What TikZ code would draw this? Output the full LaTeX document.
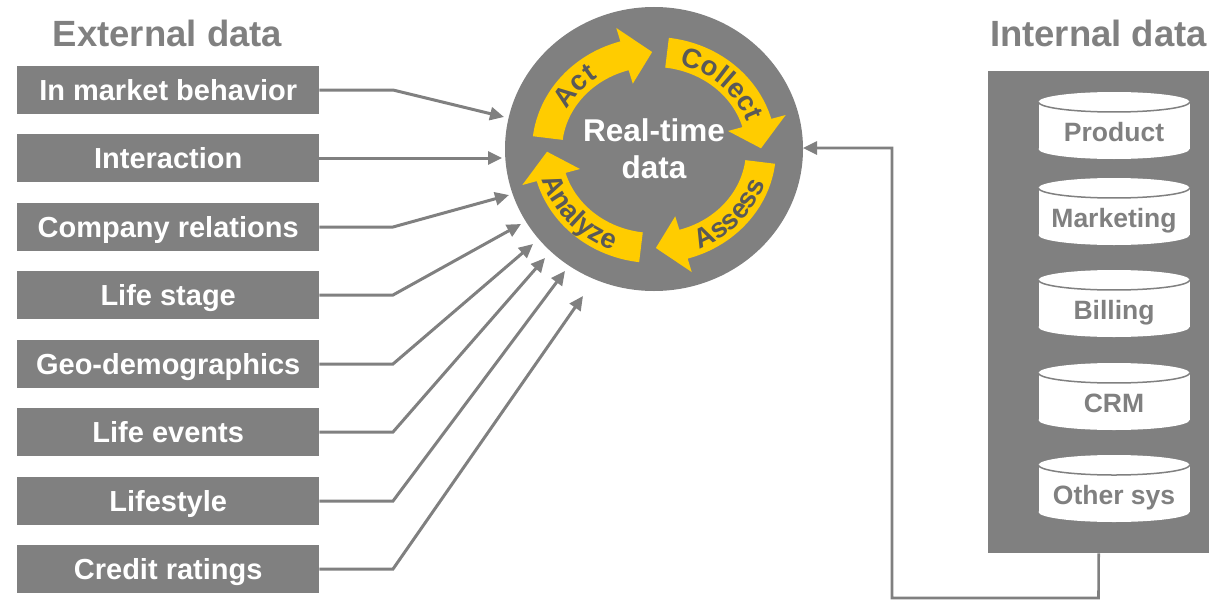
\documentclass[tikz,border=0pt]{standalone}
\usepackage{fontspec}
\setmainfont{Liberation Sans}
\usetikzlibrary{arrows.meta,shapes.geometric,decorations.text}

\definecolor{slate}{HTML}{808080}
\definecolor{gold}{HTML}{FFCC00}
\definecolor{ink}{HTML}{595959}

\tikzset{
  srcbox/.style={fill=slate, text=white, font=\fontsize{29}{34}\selectfont\bfseries,
    minimum width=302pt, minimum height=48pt, inner sep=0pt, anchor=west,
    text height=20.8pt, text depth=0pt},
  feed/.style={draw=slate, line width=3pt, -{Triangle[length=14pt,width=13pt]}},
  title/.style={text=slate, font=\fontsize{36.5}{40}\selectfont\bfseries},
  dbtext/.style={text=slate, font=\fontsize{26.5}{30}\selectfont\bfseries,
    text height=19pt, text depth=0pt, inner sep=0pt},
}

\newcommand\ringfont{\fontsize{27.5}{27.5}\selectfont\bfseries\color{ink}}

% curved arrow of the cycle: #1 = tail angle (visual, counter-clockwise)
\newcommand\ringarrow[1]{%
  \pgfmathsetmacro\ab{#1-67}\pgfmathsetmacro\at{#1-82}%
  \fill[gold] plot[domain=#1:\ab, samples=50] ({654+122*cos(\x)},{150-113*sin(\x)})
    -- ({654+137*cos(\ab)},{150-127*sin(\ab)})
    -- ({654+107*cos(\at)},{150-98*sin(\at)})
    -- ({654+77*cos(\ab)},{150-69*sin(\ab)})
    -- plot[domain=\ab:#1, samples=50] ({654+92*cos(\x)},{150-83*sin(\x)}) -- cycle;
}

% word set along the ring: #1 from, #2 to, #3 radial offset, #4 word
\newcommand\ringword[4]{%
  \path[decorate, decoration={text along path, text align=center, text={|\ringfont|#4}}]
    plot[domain=#1:#2, samples=80] ({654+(107+#3)*cos(\x)},{150-(98+#3)*sin(\x)});
}

% database drum: #1 top y, #2 label, #3 name
\newcommand\dbdrum[3]{%
  \fill[white] (1114,#1+10) ellipse[x radius=75.5, y radius=10];
  \fill[white] (1038.5,#1+10) rectangle (1189.5,#1+57);
  \fill[white] (1114,#1+57) ellipse[x radius=75.5, y radius=10];
  \draw[slate, line width=1.5pt] plot[domain=180:360, samples=48]
    ({1114+75.5*cos(\x)},{#1+10-10*sin(\x)});
  \node[dbtext] (#3) at (1114,#1+40) {#2};
}

\begin{document}
\begin{tikzpicture}[x=1pt, y=-1pt]
\useasboundingbox (0,0) rectangle (1225,602);

% headings
\node[title] (ext) at (167.5,33) {External data};
\node[title] (int) at (1098.5,33) {Internal data};

% external sources
\node[srcbox] (b1) at (17,90)  {In market behavior};
\node[srcbox] (b2) at (17,158) {Interaction};
\node[srcbox] (b3) at (17,227) {Company relations};
\node[srcbox] (b4) at (17,295) {Life stage};
\node[srcbox] (b5) at (17,364) {Geo-demographics};
\node[srcbox] (b6) at (17,432) {Life events};
\node[srcbox] (b7) at (17,501) {Lifestyle};
\node[srcbox] (b8) at (17,569) {Credit ratings};

% central hub
\node[ellipse, fill=slate, minimum width=298pt, minimum height=284pt, inner sep=0pt]
  (hub) at (654,149) {};
\ringarrow{173}
\ringarrow{83}
\ringarrow{-7}
\ringarrow{-97}
\ringword{180}{100}{-9.5}{Act}
\ringword{86}{6}{-9.5}{Collect}
\ringword{-82}{-2}{9.5}{Assess}
\ringword{182}{262}{9.5}{Analyze}
\node[text=white, font=\fontsize{31.5}{37}\selectfont\bfseries, align=center]
  (core) at (654,149) {Real-time\\data};

% bends and arrow ends of the feeds
\foreach \i/\y in {1/90,2/158,3/227,4/295,5/364,6/432,7/501,8/569}
  \coordinate (k\i) at (393,\y);
\coordinate (t1) at (504,117);
\coordinate (t2) at (502,158);
\coordinate (t3) at (509,195);
\coordinate (t4) at (521,224);
\coordinate (t5) at (533,244);
\coordinate (t6) at (545,258);
\coordinate (t7) at (565,271);
\coordinate (t8) at (583,296);
\foreach \i in {1,...,8}
  \draw[feed] (b\i.east) -- (k\i) -- (t\i);

% internal systems
\node[fill=slate, minimum width=221pt, minimum height=482pt, inner sep=0pt,
  anchor=north west] (panel) at (988,71) {};
\dbdrum{92}{Product}{d1}
\dbdrum{178}{Marketing}{d2}
\dbdrum{270}{Billing}{d3}
\dbdrum{363}{CRM}{d4}
\dbdrum{455}{Other sys}{d5}

% return feed into the hub
\coordinate (r1) at (1098.5,598);
\coordinate (r2) at (892,598);
\coordinate (r3) at (892,148);
\coordinate (intip) at (803,148);
\draw[feed, line width=2.6pt] (panel.south) -- (r1) -- (r2) -- (r3) -- (intip);
\end{tikzpicture}
\end{document}
